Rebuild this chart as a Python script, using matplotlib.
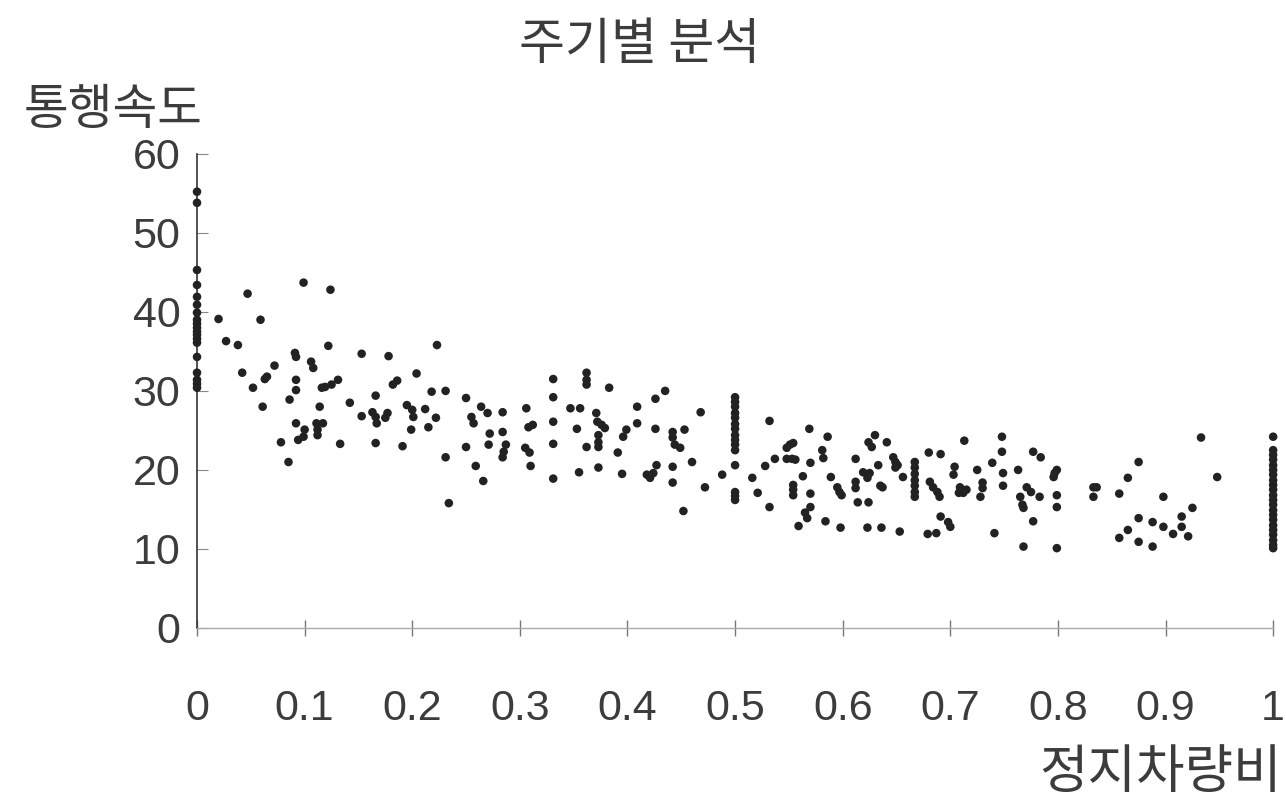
import matplotlib
matplotlib.use("Agg")
import matplotlib.pyplot as plt

# stop ratio (x) vs travel speed (y)

# vertical stacks of points at fixed ratios
col0_speed = [55.2, 53.8, 45.3, 43.4, 41.9, 40.9, 39.9, 39.0, 38.5, 38.0, 37.5,
              37.1, 36.6, 36.1, 34.3, 32.3, 31.4, 30.9, 30.4]
col05_speed = [29.2, 28.6, 28.0, 27.2, 26.6, 25.8, 25.2, 24.4, 23.8, 23.2, 22.5,
               20.6, 17.2, 16.7, 16.2]
col067_speed = [21.0, 20.3, 19.5, 18.7, 18.0, 17.2, 16.6]
col1_speed = [24.2, 22.5, 21.9, 21.3, 20.6, 20.0, 19.4, 18.7, 18.1, 17.5, 16.8,
              16.2, 15.6, 14.9, 14.3, 13.7, 13.0, 12.4, 11.8, 11.1, 10.5, 10.1]

# scattered points, 0 - 0.33
low_x = [0.020, 0.047, 0.059, 0.027, 0.038, 0.042, 0.052, 0.063, 0.065, 0.072,
         0.061, 0.078, 0.085, 0.091, 0.092, 0.092, 0.092, 0.086, 0.092, 0.094,
         0.099, 0.100, 0.099, 0.106, 0.108, 0.111, 0.112, 0.112, 0.117, 0.114,
         0.116, 0.119, 0.125, 0.131, 0.122, 0.124, 0.133, 0.142, 0.153, 0.153,
         0.163, 0.166, 0.167, 0.175, 0.177, 0.166, 0.166, 0.178, 0.182, 0.186,
         0.191, 0.195, 0.200, 0.201, 0.199, 0.204, 0.212, 0.215, 0.218, 0.222,
         0.223, 0.231, 0.231, 0.234, 0.250, 0.250, 0.255, 0.257, 0.259, 0.264,
         0.270, 0.266, 0.272, 0.271, 0.284, 0.284, 0.287, 0.285, 0.284, 0.306,
         0.308, 0.312, 0.305, 0.309, 0.310]
low_y = [39.1, 42.3, 39.0, 36.3, 35.8, 32.3, 30.4, 31.5, 31.8, 33.2,
         28.0, 23.5, 21.0, 34.8, 34.3, 31.4, 30.1, 28.9, 25.9, 23.8,
         24.2, 25.1, 43.7, 33.7, 32.9, 25.9, 25.1, 24.4, 25.9, 28.0,
         30.4, 30.5, 30.8, 31.4, 35.7, 42.8, 23.3, 28.5, 34.7, 26.8,
         27.3, 26.7, 25.9, 26.6, 27.2, 29.4, 23.4, 34.4, 30.8, 31.3,
         23.0, 28.2, 27.6, 26.7, 25.1, 32.2, 27.7, 25.4, 29.9, 26.6,
         35.8, 30.0, 21.6, 15.8, 29.1, 22.9, 26.7, 25.9, 20.5, 28.0,
         27.2, 18.6, 24.6, 23.2, 27.3, 24.8, 23.2, 22.3, 21.6, 27.8,
         25.4, 25.7, 22.8, 22.2, 20.5]

# 0.33 - 0.5
mid_x = [0.331, 0.331, 0.331, 0.331, 0.331, 0.347, 0.356, 0.353, 0.355, 0.362,
         0.362, 0.362, 0.362, 0.371, 0.372, 0.376, 0.379, 0.373, 0.373, 0.373,
         0.373, 0.383, 0.391, 0.395, 0.396, 0.399, 0.409, 0.409, 0.426, 0.435,
         0.426, 0.418, 0.421, 0.424, 0.427, 0.442, 0.442, 0.444, 0.449, 0.442,
         0.442, 0.453, 0.452, 0.460, 0.468, 0.472, 0.488]
mid_y = [31.5, 29.2, 26.1, 23.3, 18.9, 27.8, 27.8, 25.2, 19.7, 32.3,
         31.4, 30.8, 22.9, 27.2, 26.1, 25.7, 25.3, 24.4, 23.5, 22.9,
         20.3, 30.4, 22.2, 19.5, 24.2, 25.1, 28.0, 25.9, 29.0, 30.0,
         25.2, 19.4, 19.0, 19.6, 20.6, 24.8, 24.1, 23.2, 22.8, 20.4,
         18.4, 25.1, 14.8, 21.0, 27.3, 17.8, 19.4]

# 0.5 - 0.67
upper_x = [0.516, 0.521, 0.528, 0.532, 0.532, 0.537, 0.548, 0.551, 0.554, 0.548,
           0.553, 0.556, 0.554, 0.554, 0.554, 0.559, 0.563, 0.565, 0.567, 0.570,
           0.569, 0.570, 0.570, 0.581, 0.582, 0.584, 0.586, 0.589, 0.595, 0.597,
           0.599, 0.598, 0.612, 0.612, 0.612, 0.614, 0.624, 0.623, 0.624, 0.627,
           0.630, 0.619, 0.623, 0.625, 0.633, 0.635, 0.636, 0.641, 0.647, 0.651,
           0.653, 0.656, 0.637, 0.649, 0.649]
upper_y = [19.0, 17.1, 20.5, 15.3, 26.2, 21.4, 22.8, 23.2, 23.4, 21.4,
           21.4, 21.3, 18.1, 17.5, 16.8, 12.9, 19.2, 14.6, 13.9, 15.3,
           25.2, 20.9, 17.0, 22.5, 21.5, 13.5, 24.2, 19.1, 17.8, 17.2,
           16.8, 12.7, 21.4, 18.5, 17.7, 15.9, 15.9, 12.7, 23.5, 22.9,
           24.4, 19.7, 19.0, 19.6, 20.6, 18.0, 12.7, 23.5, 21.6, 20.6,
           12.2, 19.1, 17.8, 21.0, 20.3]

# 0.68 - 1
high_x = [0.680, 0.691, 0.681, 0.684, 0.688, 0.690, 0.691, 0.698, 0.700, 0.679,
          0.687, 0.704, 0.703, 0.709, 0.712, 0.715, 0.708, 0.713, 0.725, 0.730,
          0.730, 0.728, 0.739, 0.741, 0.748, 0.748, 0.749, 0.749, 0.763, 0.765,
          0.767, 0.768, 0.768, 0.771, 0.775, 0.783, 0.777, 0.784, 0.777, 0.796,
          0.799, 0.797, 0.799, 0.799, 0.799, 0.833, 0.833, 0.836, 0.857, 0.857,
          0.865, 0.865, 0.875, 0.875, 0.875, 0.888, 0.888, 0.898, 0.898, 0.907,
          0.915, 0.915, 0.921, 0.925, 0.933, 0.948]
high_y = [22.2, 22.0, 18.5, 17.8, 17.2, 16.6, 14.1, 13.4, 12.8, 11.9,
          12.0, 20.4, 19.4, 17.8, 17.1, 17.5, 17.1, 23.7, 20.0, 18.4,
          17.7, 16.6, 20.9, 12.0, 24.2, 22.3, 19.6, 18.0, 20.0, 16.6,
          15.6, 15.2, 10.3, 17.8, 17.2, 16.6, 22.3, 21.6, 13.5, 19.1,
          20.0, 19.6, 16.8, 15.3, 10.1, 17.8, 16.6, 17.8, 17.0, 11.4,
          19.0, 12.4, 21.0, 13.9, 10.9, 13.4, 10.3, 16.6, 12.8, 11.9,
          14.1, 12.8, 11.6, 15.2, 24.1, 19.1]

x_ticks = [0, 0.1, 0.2, 0.3, 0.4, 0.5, 0.6, 0.7, 0.8, 0.9, 1]
x_tick_labels = ["0", "0.1", "0.2", "0.3", "0.4", "0.5", "0.6", "0.7", "0.8", "0.9", "1"]
y_ticks = [0, 10, 20, 30, 40, 50, 60]

kr = ["Noto Sans CJK KR", "DejaVu Sans"]
txt_color = "#3c3c3c"

fig = plt.figure(figsize=(12.86, 8.01), dpi=100)
ax = fig.add_axes([0.1532, 0.216, 0.8368, 0.592])

xs = ([0] * len(col0_speed) + [0.5] * len(col05_speed)
      + [0.667] * len(col067_speed) + [1] * len(col1_speed)
      + low_x + mid_x + upper_x + high_x)
ys = col0_speed + col05_speed + col067_speed + col1_speed + low_y + mid_y + upper_y + high_y
ax.scatter(xs, ys, s=38, c="#222222", edgecolors="none", clip_on=False, zorder=3)

ax.set_xlim(0, 1)
ax.set_ylim(0, 60)

for side in ["top", "right"]:
    ax.spines[side].set_visible(False)
ax.spines["left"].set_color("#333333")
ax.spines["left"].set_linewidth(1.2)
ax.spines["bottom"].set_color("#aaaaaa")
ax.spines["bottom"].set_linewidth(1.0)

ax.set_xticks(x_ticks)
ax.set_xticklabels(x_tick_labels)
ax.set_yticks(y_ticks)
ax.tick_params(axis="x", direction="inout", length=12, width=1, color="#777777",
               pad=38, labelsize=31, labelcolor=txt_color)
ax.tick_params(axis="y", direction="in", length=8, width=0.8, color="#888888",
               pad=12, labelsize=31, labelcolor=txt_color)
for lab in ax.get_xticklabels() + ax.get_yticklabels():
    lab.set_fontfamily("Liberation Sans")

fig.text(0.497, 0.944, "주기별 분석", family=kr, fontsize=36, color=txt_color,
         ha="center", va="center", fontweight="light")
fig.text(0.088, 0.862, "통행속도", family=kr, fontsize=35, color=txt_color,
         ha="center", va="center", fontweight="light")
fig.text(0.997, 0.036, "정지차량비", family=kr, fontsize=38, color=txt_color,
         ha="right", va="center", fontweight="light")

fig.savefig("out.png", dpi=100, facecolor="white")
